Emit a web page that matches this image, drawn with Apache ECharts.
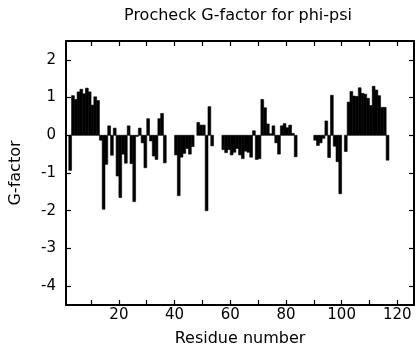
<!DOCTYPE html>
<html>
<head>
<meta charset="utf-8">
<script src="https://cdn.jsdelivr.net/npm/echarts@6/dist/echarts.min.js"></script>
<style>html,body{margin:0;padding:0;background:#fff}#c{width:416px;height:360px}</style>
</head>
<body>
<div id="c"></div>
<script>
var titleText = 'Procheck G-factor for phi-psi';
var xName = 'Residue number';
var yName = 'G-factor';
var xTickValues = [10,20,30,40,50,60,70,80,90,100,110,120];
var xLabelValues = [20,40,60,80,100,120];
var yTickValues = [-4,-3,-2,-1,0,1,2];

var residues = [];
for (var i = 2; i <= 116; i++) residues.push(i);
var gFactor = [
  -0.93, 1.05, 0.95, 1.15, 1.22, 1.10, 1.25, 1.15, 0.80, 1.02,   // 2-11
   0.92,-0.13,-1.96,-0.77, 0.25,-0.53, 0.19,-1.08,-1.65,-0.50,   // 12-21
  -0.74, 0.25,-0.75,-1.76,-0.03, 0.19,-0.20,-0.86, 0.44,-0.15,   // 22-31
  -0.55,-0.64, 0.44, 0.58,-0.73, null, null, null,-0.52,-1.60,   // 32-41
  -0.58,-0.48,-0.35,-0.50,-0.30, null, 0.34, 0.27, 0.27,-2.00,   // 42-51
   0.76,-0.28, null, null, null,-0.38,-0.46,-0.38,-0.52,-0.45,   // 52-61
  -0.35,-0.52,-0.62,-0.42,-0.45,-0.58, 0.12,-0.64,-0.62, 0.95,   // 62-71
   0.73, 0.30, 0.04, 0.25,-0.20,-0.50, 0.25, 0.31, 0.20, 0.27,   // 72-81
   0.05,-0.57, null, null, null, null, null, null,-0.13,-0.27,   // 82-91
  -0.20,-0.08, 0.38,-0.59, 1.06,-0.29,-0.70,-1.55, null,-0.43,   // 92-101
   0.88, 1.16, 1.04, 1.03, 1.26, 1.11, 1.09, 0.98, 0.79, 1.30,   // 102-111
   1.20, 1.05, 0.74, 0.74,-0.66                                   // 112-116
];

var data = [];
for (var k = 0; k < residues.length; k++) {
  if (gFactor[k] !== null) data.push([residues[k], gFactor[k]]);
}

var font = 'DejaVu Sans';
var chart = echarts.init(document.getElementById('c'), null, {renderer: 'canvas'});
var axisLine = {show: true, onZero: false, lineStyle: {color: '#000', width: 2}};
chart.setOption({
  animation: false,
  backgroundColor: '#fff',
  title: {
    text: titleText, left: 233, top: 3, textAlign: 'center',
    textStyle: {fontFamily: font, fontSize: 16, fontWeight: 'normal', color: '#000'}
  },
  grid: {left: 62, right: 2, top: 41, bottom: 55},
  xAxis: [{
    type: 'value', min: 1, max: 126, position: 'bottom',
    name: xName, nameLocation: 'middle', nameGap: 26,
    nameTextStyle: {fontFamily: font, fontSize: 16, color: '#000'},
    axisLine: axisLine,
    axisTick: {show: true, inside: true, length: 5, customValues: xTickValues, lineStyle: {color: '#000', width: 1.2}},
    axisLabel: {customValues: xLabelValues, fontFamily: font, fontSize: 15, color: '#000', margin: 3},
    splitLine: {show: false}
  }, {
    type: 'value', min: 1, max: 126, position: 'top',
    axisLine: axisLine,
    axisTick: {show: true, inside: true, length: 5, customValues: xTickValues, lineStyle: {color: '#000', width: 1.2}},
    axisLabel: {show: false},
    splitLine: {show: false}
  }],
  yAxis: [{
    type: 'value', min: -4.5, max: 2.5, position: 'left',
    name: yName, nameLocation: 'middle', nameGap: 42,
    nameTextStyle: {fontFamily: font, fontSize: 16, color: '#000'},
    axisLine: axisLine,
    axisTick: {show: true, inside: true, length: 5, customValues: yTickValues, lineStyle: {color: '#000', width: 1.2}},
    axisLabel: {customValues: yTickValues, fontFamily: font, fontSize: 15, color: '#000', margin: 10},
    splitLine: {show: false}
  }, {
    type: 'value', min: -4.5, max: 2.5, position: 'right',
    axisLine: axisLine,
    axisTick: {show: true, inside: true, length: 5, customValues: yTickValues, lineStyle: {color: '#000', width: 1.2}},
    axisLabel: {show: false},
    splitLine: {show: false}
  }],
  series: [{
    type: 'custom',
    xAxisIndex: 0, yAxisIndex: 0,
    data: data,
    renderItem: function (params, api) {
      var r = api.value(0), v = api.value(1);
      var p0 = api.coord([r, 0]);
      var p1 = api.coord([r + 1, v]);
      return {
        type: 'rect',
        shape: {x: p0[0], y: Math.min(p0[1], p1[1]), width: p1[0] - p0[0], height: Math.abs(p1[1] - p0[1])},
        style: {fill: '#000', stroke: '#000', lineWidth: 0.6}
      };
    }
  }]
});
</script>
</body>
</html>
